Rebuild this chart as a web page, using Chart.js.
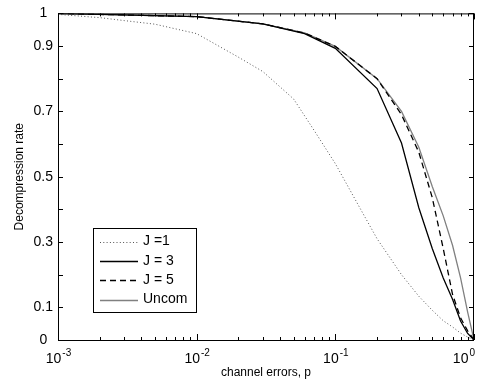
<!DOCTYPE html>
<html>
<head>
<meta charset="utf-8">
<script src="https://cdn.jsdelivr.net/npm/chart.js@4/dist/chart.umd.min.js"></script>
<style>
  html, body { margin: 0; padding: 0; background: #fff; }
  #grafica { display: block; }
</style>
</head>
<body>
<canvas id="grafica" width="487" height="382"></canvas>
<script>
// datos
const pJ1 = [0.001, 0.002, 0.003, 0.005, 0.01, 0.02, 0.03, 0.05, 0.07, 0.1, 0.15, 0.2, 0.3, 0.4, 0.5, 0.6, 0.7, 0.8, 0.9, 1];
const tasaJ1 = [0.997, 0.987, 0.978, 0.967, 0.938, 0.866, 0.822, 0.738, 0.643, 0.54, 0.405, 0.31, 0.2, 0.134, 0.091, 0.059, 0.04, 0.021, 0.009, 0];
const pErrores = [0.001, 0.01, 0.03, 0.06, 0.1, 0.2, 0.3, 0.4, 0.5, 0.6, 0.7, 0.8, 0.9, 1];
const tasaJ3 = [1.0, 0.99, 0.968, 0.938, 0.893, 0.77, 0.603, 0.405, 0.28, 0.19, 0.125, 0.058, 0.02, 0];
const tasaJ5 = [1.0, 0.99, 0.968, 0.94, 0.899, 0.80, 0.69, 0.575, 0.436, 0.28, 0.14, 0.068, 0.028, 0];
const tasaUncom = [1.0, 0.99, 0.968, 0.94, 0.899, 0.80, 0.70, 0.59, 0.47, 0.38, 0.29, 0.19, 0.085, 0];
const etiquetas = ["J =1", "J = 3", "J = 5", "Uncom"];
const yEtiquetas = [0, 0.1, 0.3, 0.5, 0.7, 0.9, 1];
const yMarcas = [0, 0.1, 0.2, 0.3, 0.4, 0.5, 0.6, 0.7, 0.8, 0.9, 1];
const xExponentes = [-3, -2, -1, 0];

const fuente = "'Liberation Sans', Arial, Helvetica, sans-serif";

function puntos(xs, ys) {
  var arr = [];
  for (let i = 0; i < xs.length; i++) {
    arr.push({x: xs[i], y: ys[i]});
  }
  return arr;
}

const ejesPlugin = {
  id: 'ejes',
  afterDraw(chart) {
    const ctx = chart.ctx;
    const a = chart.chartArea;
    const xs = chart.scales.x;
    const ys = chart.scales.y;
    ctx.save();
    ctx.strokeStyle = '#000';
    ctx.lineWidth = 1;
    // marcas eje y (adentro, ambos lados)
    for (let i = 0; i < yMarcas.length; i++) {
      var py = Math.round(ys.getPixelForValue(yMarcas[i])) + 0.5;
      ctx.beginPath();
      ctx.moveTo(a.left, py); ctx.lineTo(a.left + 5, py);
      ctx.moveTo(a.right, py); ctx.lineTo(a.right - 5, py);
      ctx.stroke();
    }
    // marcas eje x log
    for (let e = -3; e <= 0; e++) {
      for (let m = 1; m <= 9; m++) {
        if (e == 0 && m > 1) break;
        var v = m * Math.pow(10, e);
        var px = Math.round(xs.getPixelForValue(v)) + 0.5;
        var largo = (m == 1) ? 6 : 3;
        ctx.beginPath();
        ctx.moveTo(px, a.bottom); ctx.lineTo(px, a.bottom - largo);
        ctx.moveTo(px, a.top); ctx.lineTo(px, a.top + largo);
        ctx.stroke();
      }
    }
    // borde
    ctx.strokeRect(a.left + 0.5, a.top + 0.5, a.right - a.left - 1, a.bottom - a.top);
    // etiquetas x con exponente
    ctx.fillStyle = '#000';
    ctx.textBaseline = 'alphabetic';
    ctx.textAlign = 'left';
    for (let i = 0; i < xExponentes.length; i++) {
      var base = "10";
      var exp = String(xExponentes[i]);
      ctx.font = "14px " + fuente;
      var w1 = ctx.measureText(base).width;
      ctx.font = "10px " + fuente;
      var w2 = ctx.measureText(exp).width;
      var px2 = xs.getPixelForValue(Math.pow(10, xExponentes[i]));
      var x0 = px2 - (w1 + w2) / 2;
      if (x0 + w1 + w2 > a.right) x0 = a.right - w1 - w2;
      ctx.font = "14px " + fuente;
      ctx.fillText(base, x0, 363);
      ctx.font = "10px " + fuente;
      ctx.fillText(exp, x0 + w1 + 1, 356);
    }
    // titulos
    ctx.font = "12px " + fuente;
    ctx.textAlign = 'center';
    ctx.textBaseline = 'middle';
    ctx.fillText("channel errors, p", (a.left + a.right) / 2, 373);
    ctx.save();
    ctx.translate(20, (a.top + a.bottom) / 2);
    ctx.rotate(-Math.PI / 2);
    ctx.fillText("Decompression rate", 0, 0);
    ctx.restore();
    // leyenda
    var lx = 93.5, ly = 228.5, lw = 103, lh = 84;
    ctx.fillStyle = '#fff';
    ctx.fillRect(lx, ly, lw, lh);
    ctx.strokeStyle = '#000';
    ctx.strokeRect(lx, ly, lw, lh);
    ctx.font = "14px " + fuente;
    ctx.textAlign = 'left';
    ctx.textBaseline = 'middle';
    var filas = [241.5, 261, 280, 299.5];
    for (let i = 0; i < chart.data.datasets.length; i++) {
      var ds = chart.data.datasets[i];
      ctx.beginPath();
      ctx.strokeStyle = ds.borderColor;
      ctx.lineWidth = ds.borderWidth;
      ctx.setLineDash(ds.borderDash || []);
      ctx.moveTo(100, Math.round(filas[i]) + 0.5);
      ctx.lineTo(138, Math.round(filas[i]) + 0.5);
      ctx.stroke();
      ctx.setLineDash([]);
      ctx.fillStyle = '#000';
      ctx.fillText(etiquetas[i], 143, filas[i]);
    }
    ctx.restore();
  }
};

new Chart(document.getElementById("grafica"), {
  type: "line",
  data: {
    datasets: [{
      label: etiquetas[0],
      data: puntos(pJ1, tasaJ1),
      borderColor: "#555",
      borderWidth: 1,
      borderDash: [1, 2.3],
      pointRadius: 0,
      fill: false
    }, {
      label: etiquetas[1],
      data: puntos(pErrores, tasaJ3),
      borderColor: "#000",
      borderWidth: 1.3,
      pointRadius: 0,
      fill: false
    }, {
      label: etiquetas[2],
      data: puntos(pErrores, tasaJ5),
      borderColor: "#000",
      borderWidth: 1.3,
      borderDash: [6, 4],
      pointRadius: 0,
      fill: false
    }, {
      label: etiquetas[3],
      data: puntos(pErrores, tasaUncom),
      borderColor: "#808080",
      borderWidth: 1.3,
      pointRadius: 0,
      fill: false
    }]
  },
  options: {
    responsive: false,
    animation: false,
    layout: {padding: {left: 0, right: 13, top: 13, bottom: 0}},
    plugins: {
      legend: {display: false},
      tooltip: {enabled: false}
    },
    elements: {line: {tension: 0}},
    scales: {
      x: {
        type: "logarithmic",
        min: 0.001,
        max: 1,
        grid: {display: false, drawTicks: false},
        border: {display: false},
        ticks: {display: false},
        afterFit: function(scale) { scale.height = 42; }
      },
      y: {
        min: 0,
        max: 1,
        grid: {display: false, drawTicks: false},
        border: {display: false},
        ticks: {
          stepSize: 0.1,
          padding: 5,
          crossAlign: "center",
          color: "#000",
          font: {size: 14, family: fuente},
          callback: function(valor) {
            for (let i = 0; i < yEtiquetas.length; i++) {
              if (Math.abs(yEtiquetas[i] - valor) < 1e-6) return String(yEtiquetas[i]);
            }
            return "";
          }
        },
        afterFit: function(scale) { scale.width = 58; }
      }
    }
  },
  plugins: [ejesPlugin]
});
</script>
</body>
</html>
